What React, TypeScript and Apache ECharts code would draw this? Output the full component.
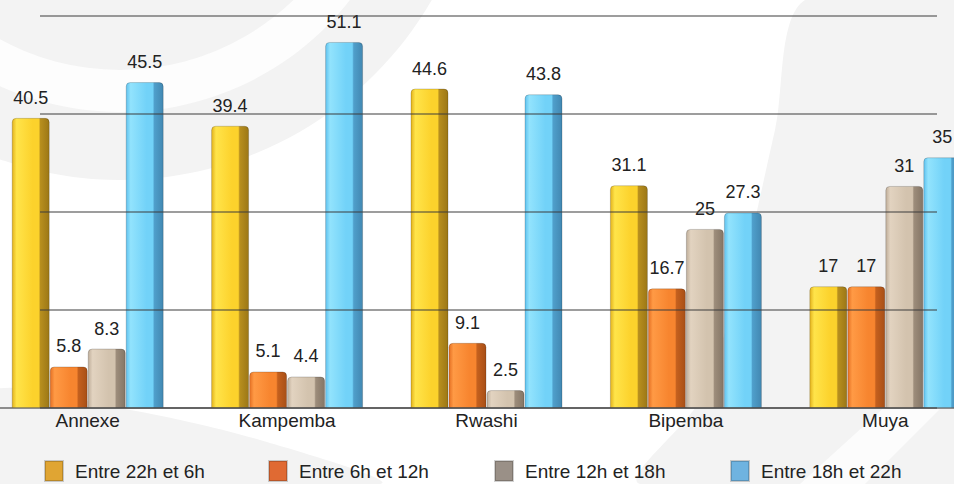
import React, { useEffect, useRef } from "react";
import * as echarts from "echarts";

// Share of activity per time slot, by commune
const categories = ["Annexe", "Kampemba", "Rwashi", "Bipemba", "Muya"];
const seriesNames = ["Entre 22h et 6h", "Entre 6h et 12h", "Entre 12h et 18h", "Entre 18h et 22h"];
const night = [40.5, 39.4, 44.6, 31.1, 17];
const morning = [5.8, 5.1, 9.1, 16.7, 17];
const afternoon = [8.3, 4.4, 2.5, 25, 31];
const evening = [45.5, 51.1, 43.8, 27.3, 35];
const gridTicks = [0, 15, 30, 45, 60];

const FONT = "'Liberation Sans', Arial, Helvetica, sans-serif";

// The chart canvas is a little wider than the visible frame so the outer
// category bands are cropped at both sides.
const VIEW_W = 954;
const VIEW_H = 484;
const BLEED_L = 12;
const BLEED_R = 31;

// Front face light, right edge shaded to give each bar a bevelled, solid look
const shade = (edge: string, light: string, front: string, side: string, dark: string) =>
  new echarts.graphic.LinearGradient(0, 0, 1, 0, [
    { offset: 0, color: edge },
    { offset: 0.12, color: light },
    { offset: 0.55, color: front },
    { offset: 0.72, color: front },
    { offset: 0.76, color: side },
    { offset: 1, color: dark },
  ]);

const barFills = [
  shade("#e3b21c", "#ffe44a", "#fcd22c", "#b88f1e", "#9c7716"),
  shade("#e56f22", "#ff9a45", "#f7852f", "#c4601e", "#a84f16"),
  shade("#bfae9a", "#e2d3c0", "#d3c3ae", "#9d8d7b", "#857666"),
  shade("#5fc2ef", "#92e3fd", "#72d2f8", "#4f9fcb", "#4288b2"),
];
const legendColors = ["#e0a533", "#e06a33", "#9a9087", "#6fb3e0"];
const legendLefts = [44, 268, 494, 730];

export default function App() {
  const ref = useRef<HTMLDivElement>(null);

  useEffect(() => {
    if (!ref.current) return;
    const chart = echarts.init(ref.current, null, { renderer: "svg" });
    const values = [night, morning, afternoon, evening];

    const series = values.map((data, i) => ({
      name: seriesNames[i],
      type: "bar" as const,
      xAxisIndex: 1,
      yAxisIndex: 1,
      data,
      barWidth: 38,
      barGap: "0%",
      itemStyle: {
        color: barFills[i],
        borderRadius: [4, 4, 0, 0],
        borderColor: "rgba(0,0,0,0.18)",
        borderWidth: 1,
      },
      label: {
        show: true,
        position: "top" as const,
        distance: 11,
        fontFamily: FONT,
        fontSize: 18,
        color: "#222",
      },
    }));

    // one legend block per series so each entry sits in its own column
    const legends = seriesNames.map((name, i) => ({
      left: legendLefts[i] + BLEED_L,
      top: 460,
      padding: 0,
      itemWidth: 18,
      itemHeight: 20,
      icon: "rect",
      selectedMode: false,
      textStyle: {
        fontFamily: FONT,
        fontSize: 19,
        lineHeight: 20,
        color: "#222",
        padding: [0, 0, 0, 7],
      },
      data: [{ name, itemStyle: { color: legendColors[i] } }],
    }));

    chart.setOption({
      animation: false,
      backgroundColor: "#ffffff",
      graphic: [
        {
          // soft background swooshes
          type: "group",
          x: BLEED_L,
          z: -10,
          silent: true,
          children: [
            {
              type: "circle",
              shape: { cx: 120, cy: -180, r: 360 },
              style: { fill: "#f3f3f3" },
            },
            {
              type: "ring",
              shape: { cx: 120, cy: -180, r: 292, r0: 250 },
              style: { fill: "#fdfdfd" },
            },
            {
              type: "polygon",
              shape: {
                smooth: 0.3,
                points: [
                  [805, 0], [VIEW_W + BLEED_R, 0], [VIEW_W + BLEED_R, VIEW_H], [640, VIEW_H],
                  [700, 400], [740, 280], [775, 130],
                ],
              },
              style: { fill: "#f3f3f3" },
            },
            {
              type: "polygon",
              shape: { points: [[800, VIEW_H], [865, VIEW_H], [VIEW_W + 10, 385], [VIEW_W + 10, 335]] },
              style: { fill: "#fcfcfc" },
            },
            {
              type: "polygon",
              shape: {
                smooth: 0.3,
                points: [[-BLEED_L, 392], [120, 408], [260, 440], [380, VIEW_H], [-BLEED_L, VIEW_H]],
              },
              style: { fill: "#f3f3f3" },
            },
          ],
        },
      ],
      legend: legends,
      grid: [
        // back wall with the horizontal rules
        { left: 40 + BLEED_L, right: 17 + BLEED_R, top: 16, height: 392 },
        // bars in front
        { left: 0, right: 0, top: 14, bottom: 76 },
      ],
      xAxis: [
        { type: "value", gridIndex: 0, show: false },
        {
          type: "category",
          gridIndex: 1,
          data: categories,
          axisTick: { show: false },
          axisLine: { show: true, lineStyle: { color: "#8c8c8c", width: 2 } },
          axisLabel: { margin: 3, fontFamily: FONT, fontSize: 19, color: "#222" },
        },
      ],
      yAxis: [
        {
          type: "value",
          gridIndex: 0,
          min: gridTicks[0],
          max: gridTicks[gridTicks.length - 1],
          interval: 15,
          z: 5,
          axisLabel: { show: false },
          axisLine: { show: false },
          axisTick: { show: false },
          splitLine: { show: true, lineStyle: { color: "rgba(60,60,60,0.5)", width: 2 } },
        },
        {
          type: "value",
          gridIndex: 1,
          min: 0,
          max: 55,
          show: false,
          splitLine: { show: false },
        },
      ],
      series,
    });

    return () => chart.dispose();
  }, []);

  return (
    <div
      style={{
        position: "absolute",
        left: 0,
        top: 0,
        width: VIEW_W,
        height: VIEW_H,
        overflow: "hidden",
      }}
    >
      <div
        ref={ref}
        style={{
          position: "absolute",
          left: -BLEED_L,
          top: 0,
          width: VIEW_W + BLEED_L + BLEED_R,
          height: VIEW_H,
        }}
      />
    </div>
  );
}
